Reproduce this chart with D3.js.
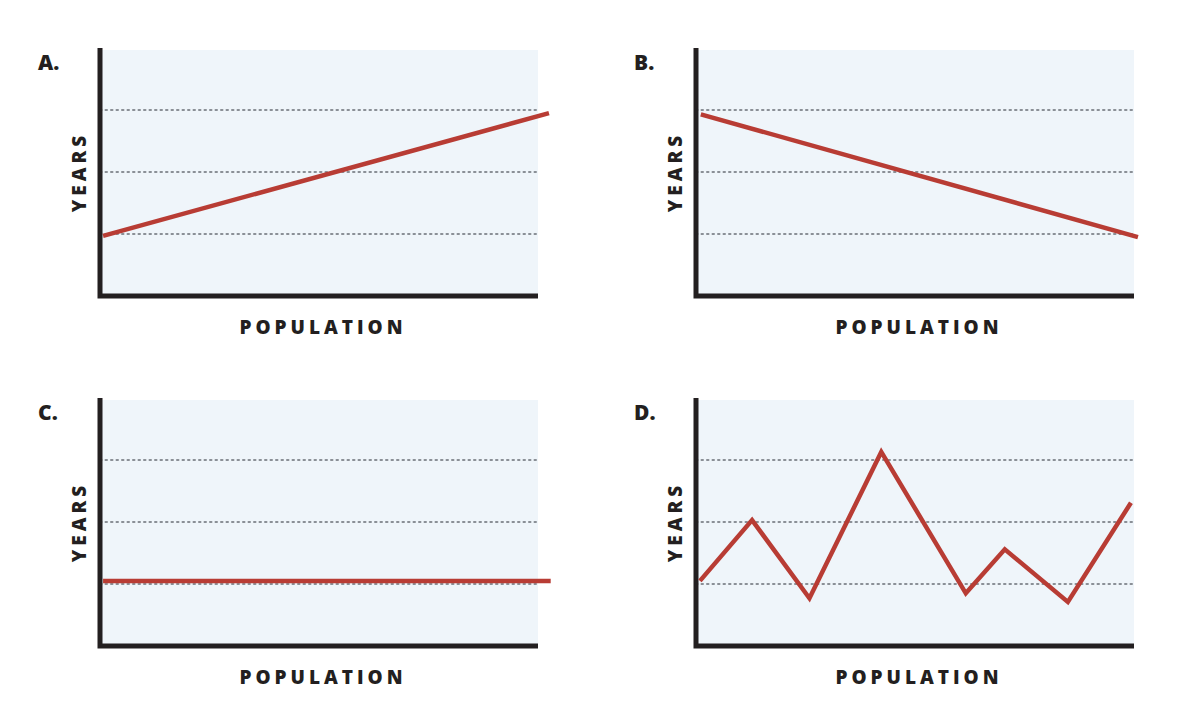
<!DOCTYPE html>
<html><head><meta charset="utf-8">
<script src="https://cdn.jsdelivr.net/npm/d3@7"></script>
<style>body{margin:0;background:#fff}</style>
</head><body>
<svg id="chart" width="1184" height="716"></svg>
<script>
// panel letters and series (x in 0-100 population units, y in 0-4 years units)
var panelNames = ["A.", "B.", "C.", "D."]
var seriesX = [
    [0.7, 102.5],
    [1.1, 100.9],
    [0.7, 102.9],
    [0.9, 12.8, 25.9, 42.3, 61.6, 70.5, 84.9, 99.3]
]
var seriesY = [
    [0.97, 2.95],
    [2.93, 0.95],
    [1.05, 1.05],
    [1.05, 2.03, 0.77, 3.13, 0.85, 1.56, 0.71, 2.31]
]
var gridValues = [1, 2, 3]

var svg = d3.select("#chart")
var panels = [
    {left: 100, top: 48, bottom: 296},
    {left: 696, top: 48, bottom: 296},
    {left: 100, top: 398, bottom: 646},
    {left: 696, top: 398, bottom: 646}
]
var plotWidth = 438

panels.forEach(function(p, i){
    var x = d3.scaleLinear().domain([0, 100]).range([p.left, p.left + plotWidth])
    var y = d3.scaleLinear().domain([0, 4]).range([p.bottom, p.top])
    var g = svg.append("g")

    g.append("rect")
        .attr("x", p.left).attr("y", p.top + 2)
        .attr("width", plotWidth).attr("height", p.bottom - p.top - 2)
        .attr("fill", "#eff5fa")

    g.selectAll(".grid").data(gridValues).enter().append("line")
        .attr("x1", p.left).attr("x2", p.left + plotWidth)
        .attr("y1", function(d){ return y(d) }).attr("y2", function(d){ return y(d) })
        .attr("stroke", "#8a8f96").attr("stroke-width", 2)
        .attr("stroke-dasharray", "1.5,4").attr("stroke-linecap", "round")

    g.append("path")
        .attr("d", "M" + p.left + "," + p.top + "V" + p.bottom + "H" + (p.left + plotWidth))
        .attr("fill", "none").attr("stroke", "#231f20").attr("stroke-width", 5)

    var pts = seriesX[i].map(function(v, j){ return [v, seriesY[i][j]] })
    g.append("path")
        .attr("d", d3.line().x(function(d){ return x(d[0]) }).y(function(d){ return y(d[1]) })(pts))
        .attr("fill", "none").attr("stroke", "#b83c34").attr("stroke-width", 4.5)
        .attr("stroke-linejoin", "miter")

    g.append("text").text(panelNames[i])
        .attr("x", p.left - 62).attr("y", p.top + 22)
        .attr("font-family", "Open Sans").attr("font-weight", 800).attr("font-size", 21)
        .attr("fill", "#231f20")

    g.append("text").text("YEARS")
        .attr("transform", "translate(" + (p.left - 14) + "," + ((p.top + p.bottom) / 2) + ") rotate(-90)")
        .attr("text-anchor", "middle")
        .attr("font-family", "Open Sans").attr("font-weight", 800).attr("font-size", 19)
        .attr("letter-spacing", 4).attr("fill", "#231f20")

    g.append("text").text("POPULATION")
        .attr("x", p.left + plotWidth / 2 + 4).attr("y", p.bottom + 38)
        .attr("text-anchor", "middle")
        .attr("font-family", "Open Sans").attr("font-weight", 800).attr("font-size", 19)
        .attr("letter-spacing", 4).attr("fill", "#231f20")
})
</script>
</body></html>
